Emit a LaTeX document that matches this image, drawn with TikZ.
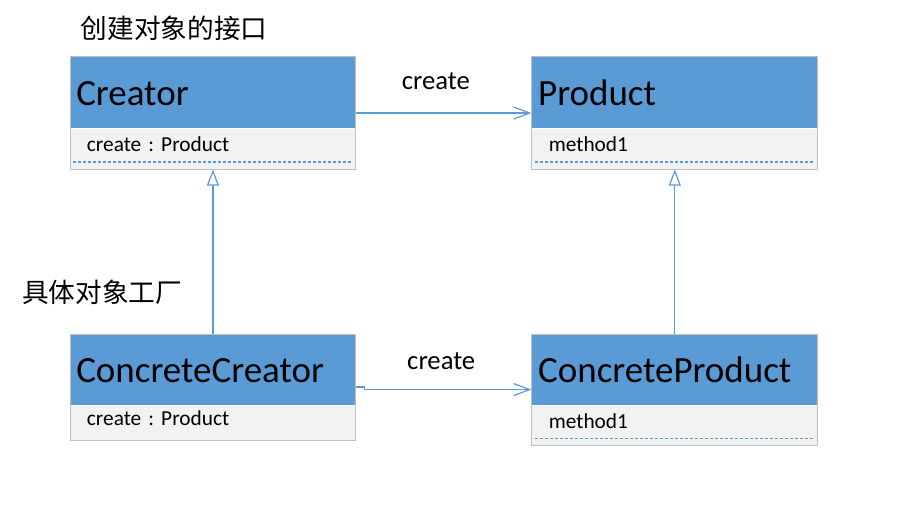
\documentclass[tikz,border=0pt]{standalone}
\usepackage{fontspec}
\setmainfont{Carlito}
\newfontfamily\cjk{Noto Sans CJK SC}
\usetikzlibrary{positioning,fit,arrows.meta}
\definecolor{hdblue}{HTML}{5B9BD5}
\definecolor{bdgray}{HTML}{F2F2F2}
\definecolor{edgegray}{HTML}{C0C0C0}
\frenchspacing

\begin{document}
\begin{tikzpicture}[x=0.75pt,y=-0.75pt,
  head/.style={fill=hdblue,anchor=north west,minimum height=53.25pt,text width=205pt,
               inner xsep=4.5pt,inner ysep=0pt,align=left,text height=19pt,text depth=0pt,
               font=\fontsize{27.75}{30}\selectfont},
  body/.style={fill=bdgray,minimum height=#1,text width=189pt,inner xsep=12.5pt,inner ysep=0pt,
               align=left,text height=10pt,text depth=5.5pt,font=\fontsize{16}{18}\selectfont},
  frame/.style={draw=edgegray,line width=0.75pt,inner sep=0pt},
  dots/.style={draw=hdblue,line width=0.9pt,dash pattern=on 2.25pt off 1.5pt},
  conn/.style={draw=hdblue,line width=0.9pt},
  lbl/.style={font=\fontsize{20}{24}\selectfont},
  note/.style={font=\cjk\fontsize{20}{24}\selectfont}]
\useasboundingbox (0,0) rectangle (899,505);

\node[head] (crHead) at (70,57) {Creator};
\node[body=30pt,below=0pt of crHead] (crBody) {create : Product};
\node[frame,fit=(crHead)(crBody)] (creator) {};

\node[head,right=132pt of crHead] (prHead) {Product};
\node[body=30pt,below=0pt of prHead] (prBody) {method1};
\node[frame,fit=(prHead)(prBody)] (product) {};

\node[head,below=123.75pt of crBody] (ccHead) {ConcreteCreator};
\node[body=25.5pt,below=0pt of ccHead] (ccBody) {create : Product};
\node[frame,fit=(ccHead)(ccBody)] (concCreator) {};

\node[head,right=132pt of ccHead] (cpHead) {ConcreteProduct};
\node[body=29.25pt,below=0pt of cpHead] (cpBody) {method1};
\node[frame,fit=(cpHead)(cpBody)] (concProduct) {};

\draw[dots] ([xshift=2.5pt,yshift=5.25pt]crBody.south west) -- ([xshift=-2.5pt,yshift=5.25pt]crBody.south east);
\draw[dots] ([xshift=2.5pt,yshift=5.25pt]prBody.south west) -- ([xshift=-2.5pt,yshift=5.25pt]prBody.south east);
\draw[dots] ([xshift=2.5pt,yshift=5pt]cpBody.south west) -- ([xshift=-2.5pt,yshift=5pt]cpBody.south east);

\node[note] (ifaceNote) at (174,28) {创建对象的接口};
\node[note] (factNote) at (102,292) {具体对象工厂};

\draw[conn,-{Straight Barb[length=12pt,width=9pt]}] (creator) -- node[lbl,yshift=24pt,xshift=-6pt]{create} (product);
\draw[conn,-{Straight Barb[length=12pt,width=9pt]}] (concCreator.east) -- ++(8,0) |- node[lbl,pos=0.75,yshift=21pt,xshift=-5pt]{create} (concProduct.west);
\draw[conn,-{Triangle[open,length=12pt,width=9pt]}] (concCreator) -- (creator);
\draw[conn,-{Triangle[open,length=12pt,width=9pt]}] (concProduct) -- (product);
\end{tikzpicture}
\end{document}
